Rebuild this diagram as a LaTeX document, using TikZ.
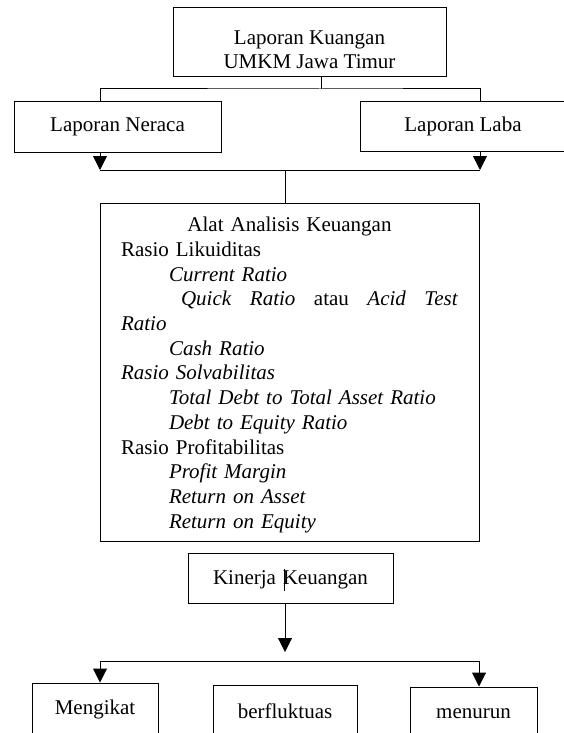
\documentclass[tikz,border=0pt]{standalone}
\usepackage{fontspec}
\setmainfont{Liberation Serif}
\usetikzlibrary{arrows.meta,positioning}

\begin{document}
\begin{tikzpicture}[x=1pt,y=-1pt,line width=1pt,
    every node/.style={font={\fontsize{21}{24.7}\selectfont}}]
      \tikzstyle{b}=[draw,line width=1pt,inner sep=0pt,align=center]
      \tikzstyle{arr}=[-{Triangle[length=14pt,width=14pt]}]
      \useasboundingbox (0,0) rectangle (564,733);
      \clip (0,0) rectangle (564,733);
      % laporan
      \node[b,minimum width=273,minimum height=69] (lk) at (309.5,42.5)
            {\rule{0pt}{28.5pt}Laporan Kuangan\\UMKM Jawa Timur};
      \node[b,minimum width=207,minimum height=50] (ner) at (117.5,127) {Laporan Neraca};
      \node[b,minimum width=206,minimum height=49] (lab) at (463,126.5) {Laporan Laba};
      \coordinate (j1) at (321,89);
      \coordinate (cl) at (100,170);
      \coordinate (cr) at (480,170);
      \coordinate (j2) at (285,170);
      \draw (j1 |- lk.south) -- (j1);
      \draw (cl |- ner.north) |- (j1) -| (cr |- lab.north);
      \draw[arr] (cl |- ner.south) -- (cl);
      \draw[arr] (cr |- lab.south) -- (cr);
      \draw (cl) -- (cr);
      % alat analisis
      \node[b,minimum width=379,minimum height=338,text width=337,align=left] (alat) at (289.5,372)
            {\rule{0pt}{20.5pt}\makebox[337pt]{Alat Analisis Keuangan}\\
             Rasio Likuiditas\\
             \hspace*{48pt}\textit{Current Ratio}\\
             \hspace*{60pt}\makebox[277pt][l]{\textit{Quick}\hfill\textit{Ratio}\hfill atau\hfill\textit{Acid}\hfill\textit{Test}}\\
             \textit{Ratio}\\
             \hspace*{48pt}\textit{Cash Ratio}\\
             \textit{Rasio Solvabilitas}\\
             \hspace*{48pt}\textit{Total Debt to Total Asset Ratio}\\
             \hspace*{48pt}\textit{Debt to Equity Ratio}\\
             Rasio Profitabilitas\\
             \hspace*{48pt}\textit{Profit Margin}\\
             \hspace*{48pt}\textit{Return on Asset}\\
             \hspace*{48pt}\textit{Return on Equity}};
      \draw (j2) -- (j2 |- alat.north);
      % kinerja
      \node[b,minimum width=205,minimum height=50,text height=17,text depth=4.6] (kin) at (290.5,578)
            {Kinerja\hspace{1.5pt} Keuangan};
      \draw[line width=1.5pt] (284.5,569) -- (284.5,591);
      \node[b,minimum width=126,minimum height=53] (meng) at (95,709.5) {Mengikat};
      \node[b,minimum width=144,minimum height=53] (ber) at (285,711.5) {berfluktuas};
      \node[b,minimum width=127,minimum height=53] (men) at (473.5,713.5) {menurun};
      \coordinate (k1) at (285,652);
      \coordinate (dl) at (100,661);
      \coordinate (dr) at (479,661);
      \draw[arr] (k1 |- kin.south) -- (k1);
      \draw (dl) -- (dr);
      \draw[arr] (dl) -- (dl |- meng.north);
      \draw[arr] (dr) -- (dr |- men.north);
    \end{tikzpicture}
\end{document}
